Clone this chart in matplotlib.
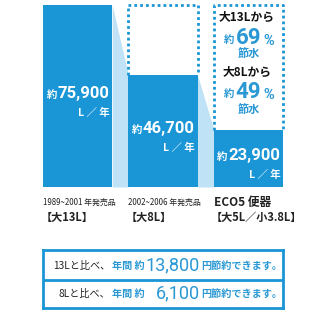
import matplotlib
matplotlib.use("Agg")
import matplotlib.pyplot as plt

plt.rcParams['font.family'] = ['Noto Sans CJK JP', 'DejaVu Sans']

# data
values = [75900, 46700, 23900]
value_labels = ["75,900", "46,700", "23,900"]
years = ["1989~2001 年発売品", "2002~2006 年発売品", "ECO5 便器"]
sizes = ["【大13L】", "【大8L】", "【大5L／小3.8L】"]
save_from = ["大13Lから", "大8Lから"]
save_pct = ["69", "49"]
yen_from = ["13Lと比べ、", "8Lと比べ、"]
yen_saved = ["13,800", "6,100"]

BLUE = "#1a96d6"
LIGHT = "#bfe2f6"
TXT = "#2a98d4"

fig = plt.figure(figsize=(3.2, 3.2), dpi=100)
W = 320.0

# main bar axes: bars from px 43 to 283, baseline at px 187, top at px 5
ax = fig.add_axes([43 / W, (W - 187) / W, 240 / W, 182 / W])
w = 0.81
x = [0, 1, 2]
ax.bar(x, values, width=w, color=BLUE, zorder=2)
ax.set_xlim(-w / 2, 2 + w / 2)
ax.set_ylim(0, max(values))
ax.axis("off")

# light connectors between bars
for i in range(len(values) - 1):
    xs = [i + w / 2, i + 1 - w / 2]
    ax.fill_between(xs, [values[i], values[i + 1]], 0, color=LIGHT, lw=0, zorder=1)

# dotted boxes above the lower bars
for i in [1, 2]:
    l, r = i - w / 2, i + w / 2
    ax.plot([l, l, r, r], [values[i], max(values), max(values), values[i]],
            color=BLUE, lw=2.0, ls=(0, (1, 1.1)), clip_on=False, zorder=3)

# value labels inside bars
for i, v in enumerate(values):
    t = ax.annotate(value_labels[i], xy=(i + w / 2, v / 2), xytext=(-2, 2),
                    textcoords="offset points", ha="right", va="center",
                    color="white", fontsize=12, fontweight="bold",
                    family="Roboto", zorder=4)
    ax.annotate("約", xy=(0, 0.4), xycoords=t, xytext=(-0.5, 0),
                textcoords="offset points", ha="right", va="center",
                color="white", fontsize=7.5, fontweight="bold")
    ax.annotate("L ／ 年", xy=(i + w / 2, v / 2), xytext=(-2, -12),
                textcoords="offset points", ha="right", va="center",
                color="white", fontsize=7.5, fontweight="bold")

# labels under bars
for i in range(3):
    big = i == 2
    ax.annotate(years[i], xy=(i - w / 2, 0), xytext=(0, -11),
                textcoords="offset points", ha="left", va="center",
                color="#222222", fontsize=8.5 if big else 5.7,
                fontweight="bold" if big else "normal",
                annotation_clip=False)
    ax.annotate(sizes[i], xy=(i - w / 2, 0), xytext=(-2, -22),
                textcoords="offset points", ha="left", va="center",
                color="#222222", fontsize=8, fontweight="bold",
                annotation_clip=False)

# saving texts in the dotted box over ECO5 (pixel rows below the box top)
top = max(values)
rows = [(17, 43.5, 53), (72, 97.5, 109)]
for k, (y1, yb, y3) in enumerate(rows):
    ax.annotate(save_from[k], xy=(2, top), xytext=(-1, -(y1 - 5) * 0.72),
                textcoords="offset points", ha="center", va="center",
                color="#111111", fontsize=8.5, fontweight="bold")
    off = -(yb - 5) * 0.72
    ax.annotate(save_pct[k], xy=(2, top), xytext=(0, off),
                textcoords="offset points", ha="center", va="baseline",
                color=TXT, fontsize=16, fontweight="bold", family="Roboto")
    ax.annotate("約", xy=(2, top), xytext=(-10.5, off),
                textcoords="offset points", ha="right", va="baseline",
                color=TXT, fontsize=7.5, fontweight="bold")
    ax.annotate("%", xy=(2, top), xytext=(10.5, off - 0.8),
                textcoords="offset points", ha="left", va="baseline",
                color=TXT, fontsize=10.5, fontweight="bold", family="Roboto")
    ax.annotate("節水", xy=(2, top), xytext=(0, -(y3 - 5) * 0.72),
                textcoords="offset points", ha="center", va="center",
                color=TXT, fontsize=8, fontweight="bold")

# bottom box with yen savings
bx = fig.add_axes([43 / W, (W - 308) / W, 240 / W, 58 / W])
bx.set_xlim(43, 283)
bx.set_ylim(308, 250)
bx.set_xticks([])
bx.set_yticks([])
for s in bx.spines.values():
    s.set_color(BLUE)
    s.set_linewidth(2)
bx.axhline(279.5, color=BLUE, lw=2)
for k, yc in enumerate([266, 294]):
    bx.text(110, yc, yen_from[k], ha="right", va="center", color="#222222",
            fontsize=7.3)
    bx.text(112, yc, "年間 約", ha="left", va="center", color=TXT,
            fontsize=7.3, fontweight="bold")
    bx.text(200, yc - 1, yen_saved[k], ha="right", va="center", color=TXT,
            fontsize=13, family="Roboto")
    bx.text(201, yc, "円節約できます。", ha="left", va="center", color=TXT,
            fontsize=7.3, fontweight="bold")

fig.savefig("out.png", dpi=100)
